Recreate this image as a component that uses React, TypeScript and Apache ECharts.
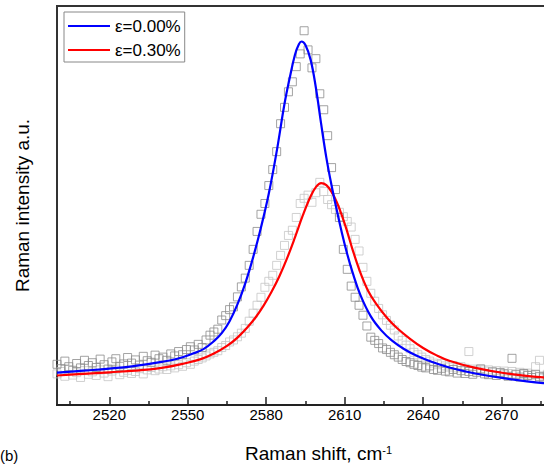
import React, { useEffect, useRef } from 'react';
import * as echarts from 'echarts';

// Measurement grid of the Raman spectra (cm^-1)
const SHIFT_START = 2500;
const SHIFT_STEP = 1.5;

// Measured spectrum, strain 0.00 % (dark squares)
const strain0Points = [
  10.2, 9.1, 11.0, 9.6, 8.7, 10.4, 9.3, 11.2, 9.9, 10.6,
  9.4, 11.5, 10.1, 9.0, 10.8, 11.6, 9.7, 10.3, 11.9, 10.5,
  11.3, 10.0, 12.2, 11.1, 10.7, 12.5, 11.6, 12.0, 11.2, 12.8,
  12.3, 13.4, 12.6, 13.9, 14.6, 13.8, 15.2, 14.4, 16.3, 17.5,
  18.3, 19.0, 21.3, 22.4, 23.9, 24.6, 27.1, 29.6, 31.8, 35.0,
  39.0, 43.5, 47.8, 50.5, 55.0, 59.0, 63.5, 70.5, 74.6, 78.5,
  81.0, 84.8, 88.0, 93.8, 89.0, 84.5, 86.8, 78.0, 74.0, 67.5,
  59.5, 54.0, 47.0, 39.0, 34.0, 29.8, 27.0, 25.0, 22.5, 19.8,
  17.0, 16.2, 15.4, 14.3, 13.9, 13.2, 12.6, 12.0, 11.4, 10.9,
  10.6, 10.2, 9.9, 9.5, 9.3, 9.8, 8.9, 8.7, 9.2, 8.5,
  8.3, 8.9, 8.0, 8.6, 7.9, 8.4, 7.7, 8.2, 9.0, 7.8,
  7.6, 8.3, 7.4, 8.1, 7.8, 7.2, 11.7, 7.6, 7.0, 7.9,
  7.4, 6.9, 7.7, 7.1, 6.8, 7.3, 6.6, 7.0, 6.5, 6.9, 6.4, 6.8, 6.3,
];

// Measured spectrum, strain 0.30 % (light squares)
const strain30Points = [
  7.8, 8.4, 7.2, 8.9, 7.5, 8.1, 6.9, 8.6, 7.7, 8.3,
  7.4, 8.8, 8.0, 7.1, 8.5, 9.0, 7.6, 8.2, 8.7, 7.9,
  8.4, 9.1, 7.8, 8.8, 9.4, 8.6, 9.0, 9.6, 8.9, 9.8,
  9.3, 10.1, 9.7, 10.6, 10.2, 11.0, 11.4, 11.8, 12.3, 12.8,
  13.2, 13.6, 14.4, 14.9, 15.8, 16.3, 17.1, 18.0, 19.2, 21.0,
  23.0, 25.0, 27.0, 29.5, 31.0, 32.5, 35.0, 37.5, 40.0, 42.5,
  43.8, 47.0, 50.5, 51.8, 52.6, 50.8, 53.2, 55.8, 53.5, 51.5,
  50.2, 49.0, 48.3, 47.2, 46.0, 44.6, 41.5, 38.6, 34.5, 31.0,
  28.0, 26.0, 24.2, 22.6, 21.2, 20.0, 18.8, 17.3, 16.2, 15.0,
  14.1, 13.2, 12.6, 12.0, 11.4, 11.0, 10.5, 10.1, 10.4, 9.8,
  9.5, 9.9, 9.3, 9.6, 9.2, 13.4, 9.0, 8.7, 9.1, 8.5,
  8.8, 8.3, 8.6, 8.1, 8.5, 7.9, 8.4, 7.8, 8.2, 7.7,
  8.0, 7.5, 9.6, 11.2, 7.3, 7.7, 7.1, 7.5, 7.0, 7.4, 6.9, 7.2, 6.8,
];

// Fitted curve, strain 0.00 %
const fit0Shift = [
  2500, 2510, 2520, 2530, 2540, 2546, 2552, 2556, 2560, 2563, 2566, 2569, 2572,
  2575, 2578, 2581, 2584, 2587, 2589, 2591, 2592.5, 2593.5, 2595, 2597, 2599,
  2601, 2603, 2605, 2607, 2609, 2611, 2613, 2616, 2620, 2624, 2628, 2633, 2638,
  2643, 2650, 2660, 2672, 2686, 2700,
];
const fit0Intensity = [
  8.1, 8.6, 9.1, 9.8, 10.8, 11.6, 12.9, 14.0, 16.0, 18.0, 21.0, 25.2, 30.5,
  37.0, 44.5, 53.0, 63.5, 75.5, 82.0, 87.8, 90.4, 91.1, 90.2, 86.5, 79.5,
  70.5, 62.0, 55.0, 48.8, 43.0, 37.8, 33.3, 27.6, 22.2, 18.7, 16.2, 13.9, 12.2,
  10.9, 9.4, 7.9, 6.6, 5.5, 4.9,
];

// Fitted curve, strain 0.30 %
const fit30Shift = [
  2500, 2510, 2520, 2530, 2540, 2548, 2555, 2560, 2565, 2569, 2573, 2576, 2579,
  2582, 2585, 2588, 2591, 2594, 2597, 2599, 2601, 2603, 2605, 2607, 2609, 2611,
  2613, 2616, 2619, 2622, 2626, 2630, 2635, 2640, 2645, 2650, 2660, 2672, 2686, 2700,
];
const fit30Intensity = [
  7.4, 7.8, 8.2, 8.6, 9.3, 10.3, 11.5, 12.9, 14.8, 16.9, 19.6, 22.0, 24.9,
  28.3, 32.2, 36.8, 42.0, 47.5, 52.3, 54.6, 55.6, 55.1, 53.4, 50.8, 47.4, 43.4,
  39.0, 33.2, 28.6, 25.4, 22.0, 19.3, 16.6, 14.3, 12.5, 11.1, 9.3, 7.9, 6.9, 6.3,
];

const majorTicks = [2520, 2550, 2580, 2610, 2640, 2670];
const minorTicks = [2505, 2535, 2565, 2595, 2625, 2655, 2685];
const legendLabels = ['ε=0.00%', 'ε=0.30%'];

const FONT = '"Liberation Sans", Arial, sans-serif';

export default function App() {
  const ref = useRef<HTMLDivElement>(null);

  useEffect(() => {
    if (!ref.current) return;
    const chart = echarts.init(ref.current, undefined, { renderer: 'svg' });

    const pts = (arr: number[]) => arr.map((v, i) => [SHIFT_START + i * SHIFT_STEP, v]);
    const pairs = (xs: number[], ys: number[]) => xs.map((x, i) => [x, ys[i]]);

    chart.setOption({
      animation: false,
      backgroundColor: '#ffffff',
      textStyle: { fontFamily: FONT },
      grid: {
        left: 57,
        top: 6,
        width: 523,
        bottom: 64,
        containLabel: false,
        outerBoundsMode: 'none',
        show: true,
        borderColor: '#333',
        borderWidth: 2,
        backgroundColor: 'transparent',
      },
      legend: {
        data: legendLabels,
        orient: 'vertical',
        left: 64,
        top: 12,
        padding: [4, 4, 2, 4],
        icon: 'rect',
        itemWidth: 42,
        itemHeight: 2,
        itemGap: 4,
        borderColor: '#888',
        borderWidth: 1,
        backgroundColor: '#fff',
        textStyle: { fontSize: 17, color: '#000', fontFamily: FONT, lineHeight: 20 },
      },
      xAxis: [
        {
          type: 'value',
          min: 2500,
          max: 2700,
          name: 'Raman shift, cm{sup|-1}',
          nameLocation: 'middle',
          nameGap: 39,
          nameTextStyle: {
            fontSize: 19,
            color: '#000',
            fontFamily: FONT,
            rich: { sup: { fontSize: 11, verticalAlign: 'top', color: '#000', fontFamily: FONT } },
          },
          axisLine: { show: true, lineStyle: { color: '#222', width: 2 } },
          axisTick: {
            show: true,
            inside: true,
            length: 8,
            customValues: majorTicks,
            lineStyle: { color: '#222', width: 1.5 },
          },
          axisLabel: {
            customValues: majorTicks,
            formatter: (v: number) => String(v),
            fontSize: 15,
            color: '#000',
            margin: 2,
            fontFamily: FONT,
          },
          splitLine: { show: false },
        },
        {
          type: 'value',
          min: 2500,
          max: 2700,
          position: 'bottom',
          axisLine: { show: false },
          axisLabel: { show: false },
          axisTick: {
            show: true,
            inside: true,
            length: 4,
            customValues: minorTicks,
            lineStyle: { color: '#222', width: 1.5 },
          },
          splitLine: { show: false },
        },
      ],
      yAxis: {
        type: 'value',
        min: 0,
        max: 100,
        name: 'Raman intensity a.u.',
        nameLocation: 'middle',
        nameGap: 25,
        nameTextStyle: { fontSize: 19, color: '#000', fontFamily: FONT },
        axisLine: { show: true, lineStyle: { color: '#333', width: 2 } },
        axisTick: { show: false },
        axisLabel: { show: false },
        splitLine: { show: false },
      },
      graphic: [
        {
          type: 'text',
          left: 0,
          top: 448,
          style: { text: '(b)', fontSize: 15, fill: '#000', fontFamily: FONT },
        },
      ],
      series: [
        {
          name: 'data 0.30',
          type: 'scatter',
          data: pts(strain30Points),
          symbol: 'rect',
          symbolSize: 8,
          itemStyle: { color: 'rgba(0,0,0,0)', borderColor: '#c6c6c6', borderWidth: 1 },
          z: 1,
        },
        {
          name: 'data 0.00',
          type: 'scatter',
          data: pts(strain0Points),
          symbol: 'rect',
          symbolSize: 8,
          itemStyle: { color: 'rgba(0,0,0,0)', borderColor: '#8c8c8c', borderWidth: 1 },
          z: 2,
        },
        {
          name: legendLabels[0],
          type: 'line',
          data: pairs(fit0Shift, fit0Intensity),
          showSymbol: false,
          symbol: 'none',
          smooth: 0.4,
          lineStyle: { color: '#0000ff', width: 2.2 },
          itemStyle: { color: '#0000ff' },
          z: 4,
        },
        {
          name: legendLabels[1],
          type: 'line',
          data: pairs(fit30Shift, fit30Intensity),
          showSymbol: false,
          symbol: 'none',
          smooth: 0.4,
          lineStyle: { color: '#ff0000', width: 2.2 },
          itemStyle: { color: '#ff0000' },
          z: 3,
        },
      ],
    });

    return () => chart.dispose();
  }, []);

  return <div ref={ref} style={{ width: 544, height: 469, position: 'absolute', left: 0, top: 0 }} />;
}
